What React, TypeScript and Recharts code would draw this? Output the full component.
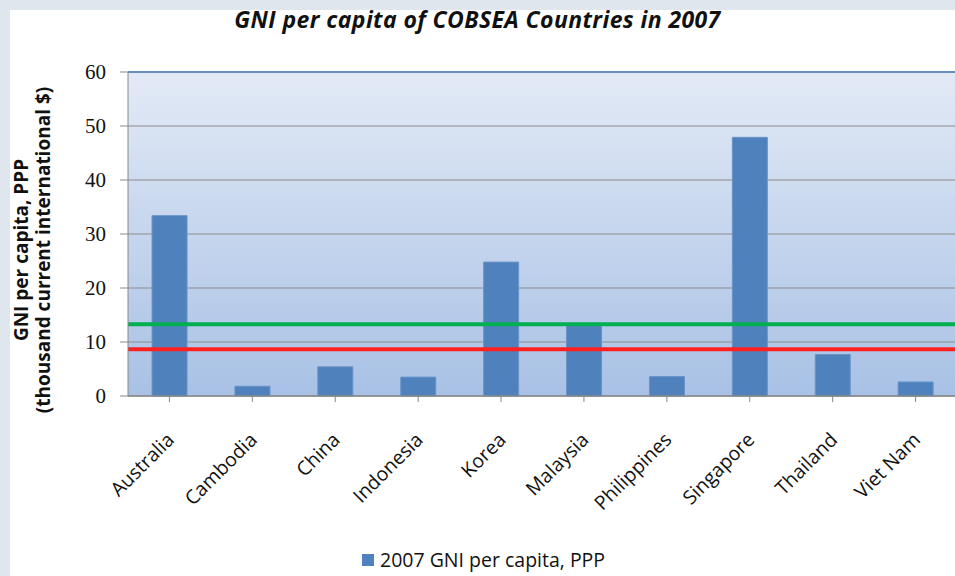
import React from "react";
import { BarChart, Bar, XAxis, YAxis, CartesianGrid, ReferenceLine } from "recharts";

const countries = ["Australia", "Cambodia", "China", "Indonesia", "Korea", "Malaysia", "Philippines", "Singapore", "Thailand", "Viet Nam"];
const gniValues = [33.4, 1.8, 5.4, 3.5, 24.8, 13.3, 3.6, 47.9, 7.7, 2.6];
const yTicks = [0, 10, 20, 30, 40, 50, 60];
const greenLineValue = 13.3;
const redLineValue = 8.65;

const data = countries.map((c, i) => ({ name: c, value: gniValues[i] }));

const YTitle = (props: any) => {
  const cy = 250;
  return (
    <g>
      <text x={21} y={cy} transform={`rotate(-90, 21, ${cy})`} textAnchor="middle" dominantBaseline="central"
        style={{ fontFamily: "'Open Sans', sans-serif", fontWeight: 700, fontSize: 19, fill: "#111" }}>
        GNI per capita, PPP
      </text>
      <text x={43} y={cy} transform={`rotate(-90, 43, ${cy})`} textAnchor="middle" dominantBaseline="central"
        style={{ fontFamily: "'Open Sans', sans-serif", fontWeight: 700, fontSize: 19, fill: "#111" }}>
        (thousand current international $)
      </text>
    </g>
  );
};

const XTick = (props: any) => {
  const { x, y, payload } = props;
  const ax = x + 6;
  const ay = y + 37;
  return (
    <text x={ax} y={ay} transform={`rotate(-45, ${ax}, ${ay})`} textAnchor="end"
      style={{ fontFamily: "'Open Sans', sans-serif", fontSize: 19.5, fill: "#111" }}>
      {payload.value}
    </text>
  );
};

export default function App() {
  return (
    <div style={{ position: "absolute", left: 0, top: 0, width: 955, height: 576, background: "#dfe6ee", overflow: "hidden" }}>
      <div style={{ position: "absolute", left: 10, top: 10, width: 945, height: 566, background: "#fff" }} />
      <div style={{ position: "absolute", left: 0, top: 3, width: 955, textAlign: "center", paddingLeft: 0,
        fontFamily: "'Open Sans', sans-serif", fontStyle: "italic", fontWeight: 700, fontSize: 23, color: "#111", letterSpacing: 0.4 }}>
        GNI per capita of COBSEA  Countries in 2007
      </div>
      <div style={{ position: "absolute", left: 0, top: 0 }}>
        <BarChart width={957} height={576} data={data} margin={{ top: 72, right: 0, left: 0, bottom: 0 }} barCategoryGap="29%">
          <defs>
            <linearGradient id="plotBg" x1="0" y1="0" x2="0" y2="1">
              <stop offset="0%" stopColor="#e3eaf6" />
              <stop offset="100%" stopColor="#a8c1e5" />
            </linearGradient>
          </defs>
          <CartesianGrid vertical={false} fill="url(#plotBg)" stroke="#8c8c8c" strokeWidth={1} />
          <XAxis dataKey="name" interval={0} tick={<XTick />} tickLine={{ stroke: "#888" }} tickSize={6}
            axisLine={{ stroke: "#888", strokeWidth: 1.5 }} height={180} />
          <YAxis domain={[0, 60]} ticks={yTicks} interval={0} width={128} tickSize={8} tickMargin={14}
            tick={{ fontFamily: "'Liberation Serif', serif", fontSize: 21, fill: "#111" }}
            tickLine={{ stroke: "#888" }} axisLine={{ stroke: "#888" }} label={<YTitle />} />
          <ReferenceLine y={60} stroke="#4a7ebb" strokeWidth={1.5} />
          <Bar dataKey="value" fill="#4f81bd" stroke="#6a94c8" strokeWidth={1} isAnimationActive={false} />
          <ReferenceLine y={greenLineValue} stroke="#00b050" strokeWidth={4} />
          <ReferenceLine y={redLineValue} stroke="#ff2020" strokeWidth={4} />
        </BarChart>
      </div>
      <div style={{ position: "absolute", left: 362, top: 547, display: "flex", alignItems: "center",
        fontFamily: "'Open Sans', sans-serif", fontSize: 19.5, lineHeight: "26px", color: "#111" }}>
        <span style={{ display: "inline-block", width: 12, height: 12, background: "#4f81bd", marginRight: 6 }} />
        <span>2007 GNI per capita, PPP</span>
      </div>
    </div>
  );
}
